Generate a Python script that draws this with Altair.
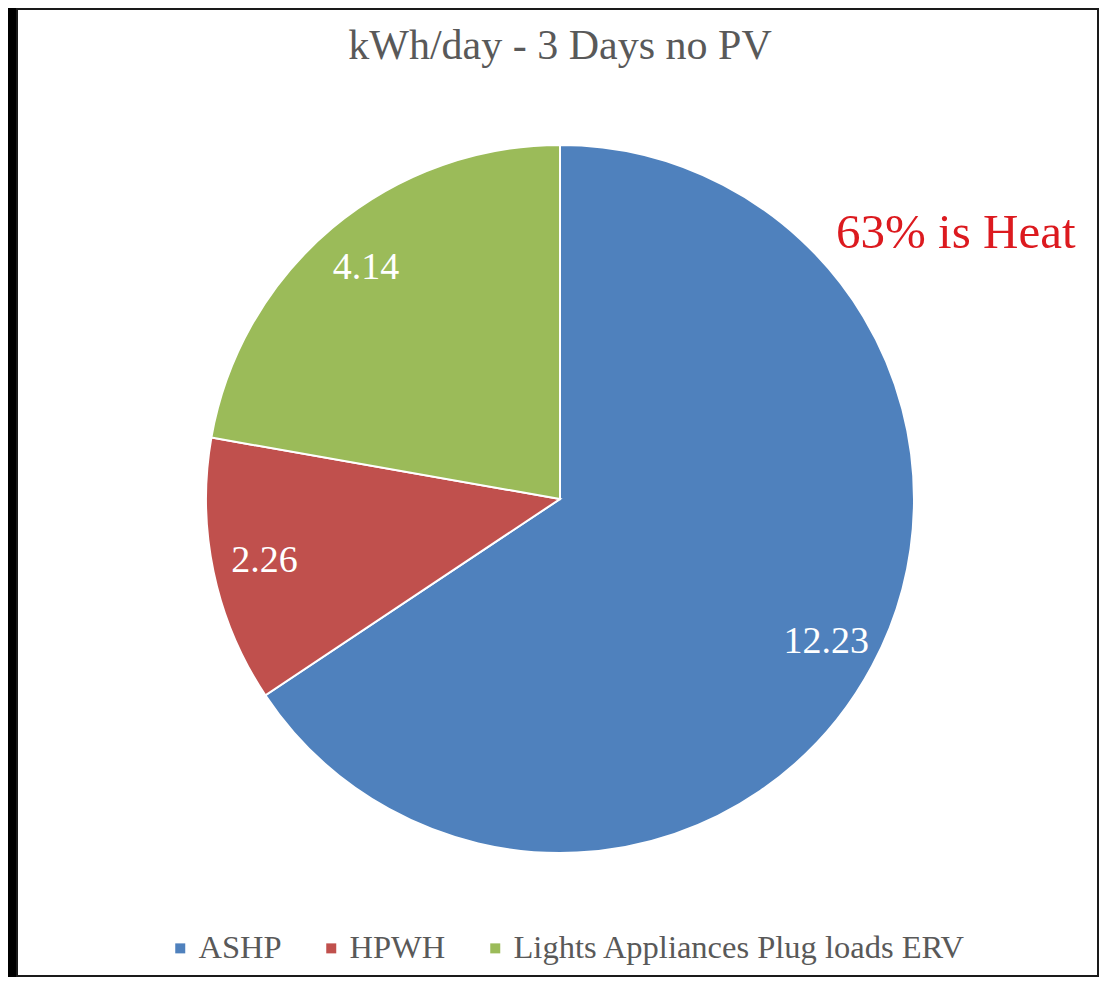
import altair as alt
import pandas as pd

categories = ["ASHP", "HPWH", "Lights Appliances Plug loads ERV"]
values = [12.23, 2.26, 4.14]
labels = ["12.23", "2.26", "4.14"]
order = [1, 2, 3]
colors = ["#4F81BD", "#C0504D", "#9BBB59"]

title_text = "kWh/day - 3 Days no PV"
note_text = "63% is Heat"

df = pd.DataFrame({"cat": categories, "val": values, "lab": labels, "ord": order})

CX, CY, R = 543, 490, 354
SERIF = "Liberation Serif"

color = alt.Color(
    "cat:N",
    scale=alt.Scale(domain=categories, range=colors),
    legend=alt.Legend(
        title=None,
        orient="none",
        direction="horizontal",
        legendX=147,
        legendY=923,
        symbolType="square",
        symbolSize=100,
        symbolStrokeWidth=0,
        labelFont=SERIF,
        labelFontSize=32.5,
        labelColor="#595959",
        labelOffset=2,
        columnPadding=33,
        labelLimit=800,
        padding=0,
    ),
)

base = alt.Chart(df)

pie = base.mark_arc(radius=R, stroke="white", strokeWidth=2).encode(
    theta=alt.Theta("val:Q", stack=True),
    color=color,
    order=alt.Order("ord:Q"),
    x=alt.value(CX),
    y=alt.value(CY),
)

text = base.mark_text(
    radius=302, font=SERIF, fontSize=38, color="white", baseline="middle", align="center"
).encode(
    theta=alt.Theta("val:Q", stack=True),
    order=alt.Order("ord:Q"),
    text="lab:N",
    x=alt.value(CX),
    y=alt.value(CY),
)

title = alt.Chart(pd.DataFrame({"t": [title_text]})).mark_text(
    font=SERIF, fontSize=42, color="#595959", baseline="alphabetic", align="center"
).encode(text="t:N", x=alt.value(543), y=alt.value(50))

note = alt.Chart(pd.DataFrame({"t": [note_text]})).mark_text(
    font=SERIF, fontSize=49, color="#DC1A1F", baseline="alphabetic", align="left"
).encode(text="t:N", x=alt.value(819), y=alt.value(239))

chart = (
    alt.layer(pie, text, title, note)
    .properties(
        width=1091,
        height=969,
        autosize=alt.AutoSizeParams(type="fit", contains="padding"),
        padding={"left": 9, "top": 1, "right": 1, "bottom": 1},
        background="black",
    )
    .configure_view(fill="white", stroke="#1a1a1a", strokeWidth=2)
)

chart.save("out.html", embed_options={"renderer": "svg", "actions": False})
